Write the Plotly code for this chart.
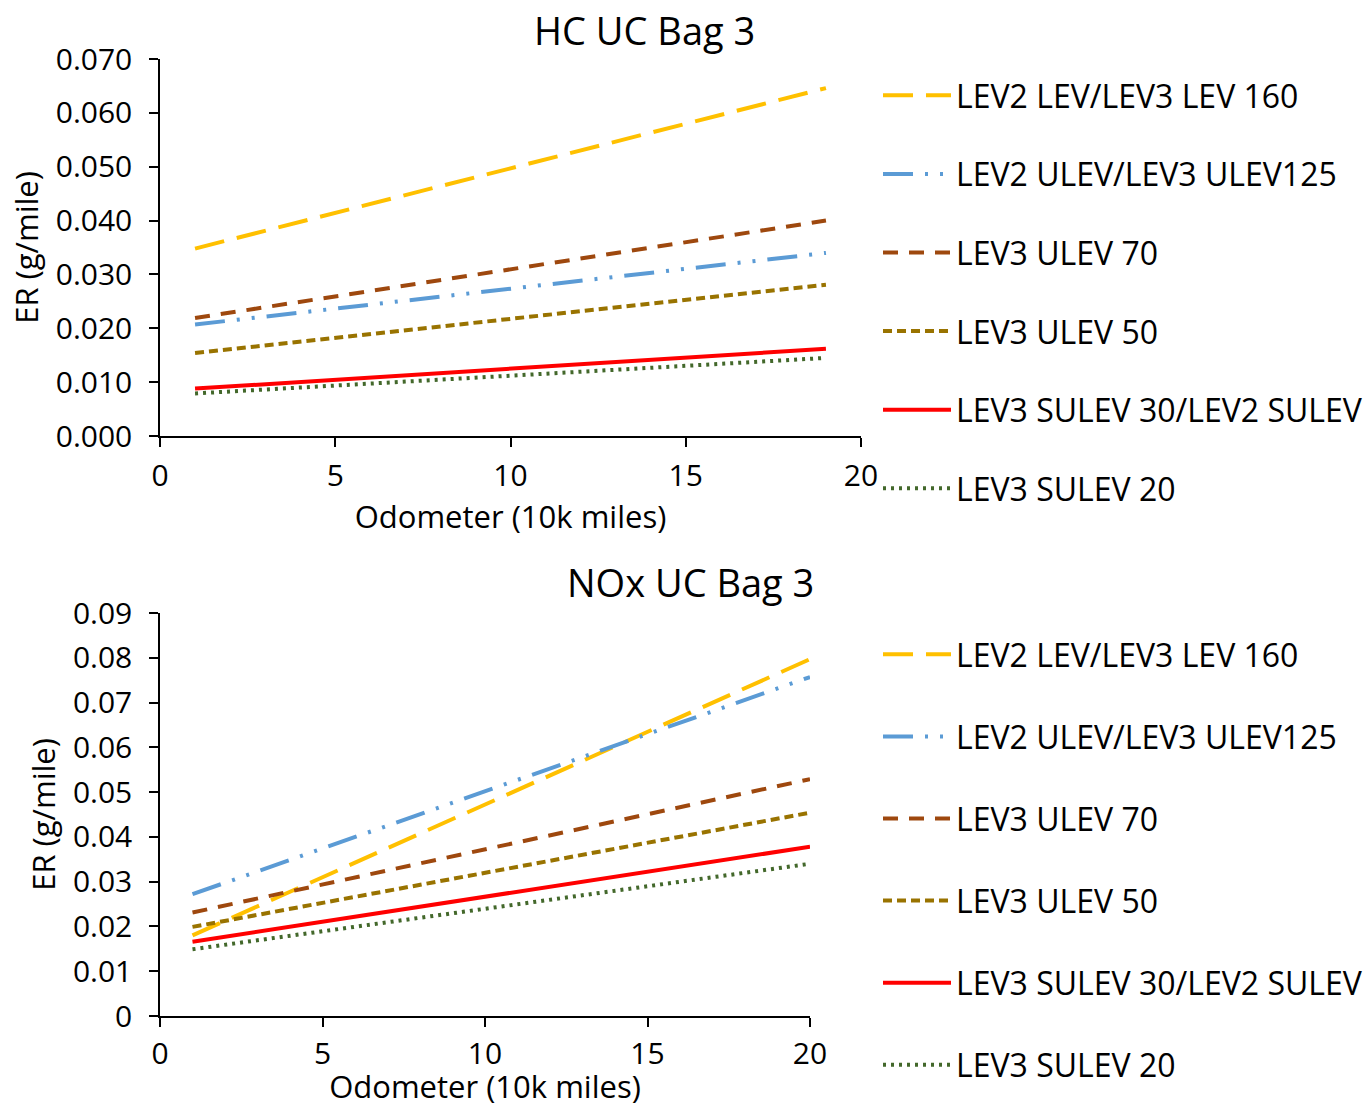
import plotly.graph_objects as go

# ---- data ----
series_names = [
    "LEV2 LEV/LEV3 LEV 160",
    "LEV2 ULEV/LEV3 ULEV125",
    "LEV3 ULEV 70",
    "LEV3 ULEV 50",
    "LEV3 SULEV 30/LEV2 SULEV",
    "LEV3 SULEV 20",
]
hc_odometer = [1, 19]
hc_lev160 = [0.0348, 0.0646]
hc_ulev125 = [0.0207, 0.0340]
hc_ulev70 = [0.0219, 0.0400]
hc_ulev50 = [0.0154, 0.0281]
hc_sulev30 = [0.0088, 0.0162]
hc_sulev20 = [0.0079, 0.0145]

nox_odometer = [1, 20]
nox_lev160 = [0.0180, 0.0797]
nox_ulev125 = [0.0272, 0.0757]
nox_ulev70 = [0.0231, 0.0529]
nox_ulev50 = [0.0199, 0.0454]
nox_sulev30 = [0.0166, 0.0378]
nox_sulev20 = [0.0149, 0.0340]

hc_yticks = [0, 0.01, 0.02, 0.03, 0.04, 0.05, 0.06, 0.07]
hc_yticktext = ["0.000", "0.010", "0.020", "0.030", "0.040", "0.050", "0.060", "0.070"]
nox_yticks = [0, 0.01, 0.02, 0.03, 0.04, 0.05, 0.06, 0.07, 0.08, 0.09]
nox_yticktext = ["0", "0.01", "0.02", "0.03", "0.04", "0.05", "0.06", "0.07", "0.08", "0.09"]
x_ticks = [0, 5, 10, 15, 20]

# ---- styles ----
colors = ["#FFC000", "#5B9BD5", "#9E480E", "#997300", "#FF0000", "#43682B"]
dashes = ["30px,13px", "30px,12px,3px,12px,3px,12px", "15px,11px", "9px,5px", "solid", "3px,5px"]
FONT = "Open Sans"
W, H = 1369, 1107

fig = go.Figure()

hc_vals = [hc_lev160, hc_ulev125, hc_ulev70, hc_ulev50, hc_sulev30, hc_sulev20]
nox_vals = [nox_lev160, nox_ulev125, nox_ulev70, nox_ulev50, nox_sulev30, nox_sulev20]

for i, (name, ys) in enumerate(zip(series_names, hc_vals)):
    fig.add_trace(go.Scatter(
        x=hc_odometer, y=ys, mode="lines", name=name,
        line=dict(color=colors[i], width=4, dash=dashes[i]),
        xaxis="x", yaxis="y", legend="legend", legendgroup="hc%d" % i,
    ))
for i, (name, ys) in enumerate(zip(series_names, nox_vals)):
    fig.add_trace(go.Scatter(
        x=nox_odometer, y=ys, mode="lines", name=name,
        line=dict(color=colors[i], width=4, dash=dashes[i]),
        xaxis="x2", yaxis="y2", legend="legend2", legendgroup="nox%d" % i,
    ))

def px_x(p):
    return p / W

def px_y(p):
    return (H - p) / H

TICK_SIZE = 30
TITLE_SIZE = 31
LEGEND_SIZE = 32

axis_common = dict(
    showgrid=False, zeroline=False, showline=True, linecolor="black", linewidth=1.5,
    ticks="outside", ticklen=9, tickwidth=1.5, tickcolor="black", automargin=False,
    tickfont=dict(family=FONT, size=TICK_SIZE, color="black"),
)

fig.update_layout(
    width=W, height=H,
    margin=dict(l=0, r=0, t=0, b=0),
    paper_bgcolor="white", plot_bgcolor="white",
    font=dict(family=FONT, color="black"),
    xaxis=dict(domain=[px_x(160), px_x(861)], range=[0, 20], tickvals=x_ticks,
               anchor="y", ticklabelstandoff=3,
               title=dict(text="Odometer (10k miles)", font=dict(size=TITLE_SIZE), standoff=0),
               **axis_common),
    yaxis=dict(domain=[px_y(436), px_y(59)], range=[0, 0.07], tickvals=hc_yticks, ticktext=hc_yticktext,
               anchor="x", ticklabelstandoff=11,
               title=dict(text="ER (g/mile)", font=dict(size=TITLE_SIZE), standoff=8),
               **axis_common),
    xaxis2=dict(domain=[px_x(160), px_x(810)], range=[0, 20], tickvals=x_ticks,
                anchor="y2", ticklabelstandoff=1,
                title=dict(text="Odometer (10k miles)", font=dict(size=TITLE_SIZE), standoff=3),
                **axis_common),
    yaxis2=dict(domain=[px_y(1016), px_y(613)], range=[0, 0.09], tickvals=nox_yticks, ticktext=nox_yticktext,
                anchor="x2", ticklabelstandoff=11,
                title=dict(text="ER (g/mile)", font=dict(size=TITLE_SIZE), standoff=8),
                **axis_common),
    legend=dict(x=px_x(878), y=px_y(68), xanchor="left", yanchor="top",
                font=dict(family=FONT, size=LEGEND_SIZE, color="black"), tracegroupgap=34,
                bgcolor="rgba(0,0,0,0)", itemwidth=68),
    legend2=dict(x=px_x(878), y=px_y(627), xanchor="left", yanchor="top",
                 font=dict(family=FONT, size=LEGEND_SIZE, color="black"), tracegroupgap=37.5,
                 bgcolor="rgba(0,0,0,0)", itemwidth=68),
    showlegend=True,
    annotations=[
        dict(text="HC UC Bag 3", x=px_x(644), y=px_y(30), xref="paper", yref="paper",
             xanchor="center", yanchor="middle",
             showarrow=False, font=dict(family=FONT, size=38, color="black")),
        dict(text="NOx UC Bag 3", x=px_x(690), y=px_y(582), xref="paper", yref="paper",
             xanchor="center", yanchor="middle",
             showarrow=False, font=dict(family=FONT, size=38, color="black")),
    ],
)

fig.write_html("out.html", config={"displayModeBar": False},
               post_script="document.body.style.margin='0px';document.body.style.overflow='hidden';")
